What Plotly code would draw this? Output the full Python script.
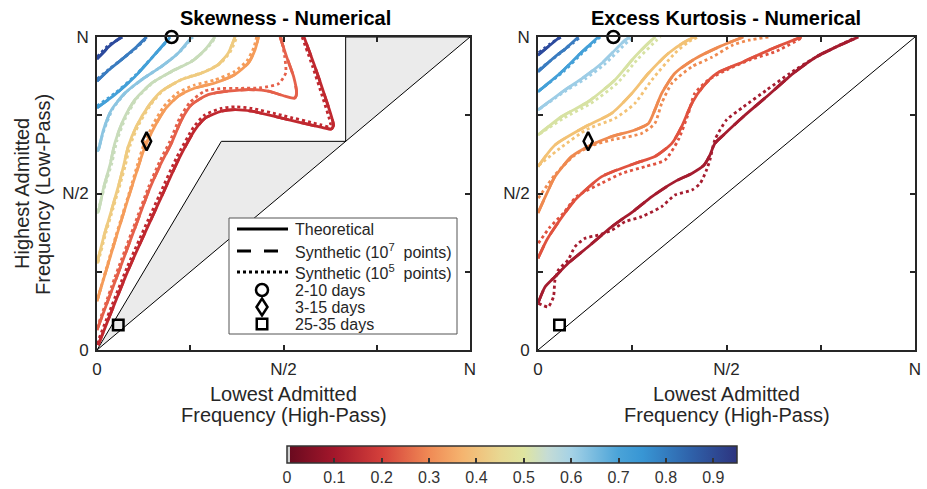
import plotly.graph_objects as go

# ---------------- data (frequencies in units of N) ----------------
LEVELS = [0.9, 0.8, 0.7, 0.6, 0.5, 0.4, 0.3, 0.2, 0.1]

# Skewness panel - theoretical contours (x = high-pass, y = low-pass)
skew_th_09 = [(0, 0.930), (0.015, 0.948), (0.030, 0.967), (0.048, 0.985), (0.066, 1.0)]
skew_th_08 = [(0, 0.859), (0.030, 0.893), (0.066, 0.928), (0.100, 0.962), (0.133, 1.0)]
skew_th_07 = [(0, 0.774), (0.048, 0.816), (0.102, 0.874), (0.155, 0.944), (0.196, 1.0)]
skew_th_06 = [(0, 0.635), (0.004, 0.640), (0.017, 0.702), (0.039, 0.768), (0.075, 0.821), (0.120, 0.864),
              (0.173, 0.906), (0.218, 0.949), (0.254, 1.0)]
skew_th_05 = [(0, 0.438), (0.0035, 0.442), (0.018, 0.520), (0.035, 0.592), (0.048, 0.662), (0.071, 0.736),
              (0.102, 0.800), (0.147, 0.853), (0.200, 0.890), (0.254, 0.922), (0.290, 0.960), (0.316, 1.0)]
skew_th_04 = [(0, 0.277), (0.020, 0.370), (0.039, 0.447), (0.060, 0.535), (0.071, 0.587), (0.084, 0.651),
              (0.106, 0.715), (0.138, 0.779), (0.173, 0.827), (0.227, 0.864), (0.281, 0.885), (0.325, 0.912),
              (0.352, 0.949), (0.370, 1.0)]
skew_th_03 = [(0, 0.156), (0.050, 0.355), (0.085, 0.490), (0.111, 0.587), (0.129, 0.651), (0.155, 0.715),
              (0.182, 0.768), (0.218, 0.811), (0.263, 0.837), (0.316, 0.853), (0.370, 0.880), (0.406, 0.917),
              (0.424, 0.960), (0.433, 1.0)]
skew_th_02 = [(0, 0.064), (0.050, 0.224), (0.100, 0.384), (0.140, 0.512), (0.170, 0.592), (0.200, 0.662),
              (0.227, 0.736), (0.254, 0.784), (0.298, 0.816), (0.352, 0.827), (0.406, 0.832), (0.459, 0.827),
              (0.504, 0.811), (0.530, 0.805), (0.535, 0.820), (0.527, 0.874), (0.508, 0.938), (0.491, 1.0)]
skew_th_01 = [(0.003, 0.015), (0.084, 0.256), (0.173, 0.490), (0.218, 0.607), (0.263, 0.704), (0.290, 0.741),
              (0.334, 0.763), (0.370, 0.768), (0.415, 0.763), (0.495, 0.741), (0.600, 0.712), (0.628, 0.706),
              (0.634, 0.718), (0.611, 0.811), (0.584, 0.906), (0.555, 1.0)]

# Skewness panel - synthetic 10^5 points (dotted)
skew_dot_09 = [(0, 0.936), (0.030, 0.972), (0.068, 1.0)]
skew_dot_08 = [(0, 0.866), (0.033, 0.898), (0.070, 0.932), (0.105, 0.965), (0.136, 1.0)]
skew_dot_07 = [(0, 0.780), (0.050, 0.822), (0.105, 0.880), (0.158, 0.948), (0.198, 1.0)]
skew_dot_06 = [(0.003, 0.640), (0.020, 0.707), (0.043, 0.772), (0.080, 0.826), (0.125, 0.868), (0.178, 0.910),
               (0.222, 0.953), (0.257, 1.0)]
skew_dot_05 = [(0.002, 0.442), (0.022, 0.528), (0.040, 0.598), (0.053, 0.667), (0.076, 0.740), (0.107, 0.804),
               (0.152, 0.856), (0.205, 0.893), (0.258, 0.926), (0.294, 0.963), (0.319, 1.0)]
skew_dot_04 = [(0.003, 0.280), (0.024, 0.375), (0.043, 0.452), (0.064, 0.538), (0.076, 0.590), (0.089, 0.654),
               (0.111, 0.718), (0.143, 0.782), (0.178, 0.830), (0.232, 0.867), (0.286, 0.888), (0.330, 0.915),
               (0.357, 0.952), (0.375, 1.0)]
skew_dot_03 = [(0.002, 0.165), (0.050, 0.362), (0.085, 0.497), (0.109, 0.594), (0.126, 0.658), (0.151, 0.722),
               (0.178, 0.776), (0.214, 0.820), (0.260, 0.846), (0.314, 0.862), (0.368, 0.889), (0.402, 0.924),
               (0.420, 0.965), (0.428, 1.0)]
skew_dot_02 = [(0, 0.070), (0.048, 0.232), (0.098, 0.392), (0.138, 0.520), (0.168, 0.602), (0.196, 0.668),
               (0.222, 0.742), (0.250, 0.792), (0.290, 0.828), (0.330, 0.835), (0.380, 0.836), (0.440, 0.838),
               (0.487, 0.851), (0.506, 0.885), (0.503, 0.940), (0.493, 1.0)]
skew_dot_01 = [(0, 0.020), (0.080, 0.262), (0.168, 0.497), (0.213, 0.614), (0.259, 0.712), (0.288, 0.750),
               (0.333, 0.772), (0.370, 0.777), (0.415, 0.772), (0.495, 0.750), (0.598, 0.720), (0.622, 0.713),
               (0.626, 0.720), (0.604, 0.811), (0.578, 0.906), (0.550, 1.0)]

# Excess kurtosis panel - theoretical contours
kurt_th_09 = [(0, 0.942), (0.030, 0.972), (0.058, 1.0)]
kurt_th_08 = [(0, 0.889), (0.045, 0.937), (0.075, 0.965), (0.107, 1.0)]
kurt_th_07 = [(0, 0.825), (0.063, 0.889), (0.110, 0.945), (0.160, 1.0)]
kurt_th_06 = [(0, 0.767), (0.072, 0.831), (0.120, 0.870), (0.169, 0.916), (0.231, 0.990), (0.244, 1.0)]
kurt_th_05 = [(0, 0.687), (0.063, 0.746), (0.134, 0.794), (0.204, 0.863), (0.257, 0.937), (0.306, 0.995),
              (0.312, 1.0)]
kurt_th_04 = [(0, 0.586), (0.045, 0.655), (0.125, 0.713), (0.195, 0.756), (0.249, 0.820), (0.293, 0.884),
              (0.346, 0.948), (0.390, 0.985), (0.415, 1.0)]
kurt_th_03 = [(0, 0.438), (0.024, 0.502), (0.045, 0.554), (0.089, 0.618), (0.133, 0.650), (0.195, 0.682),
              (0.257, 0.703), (0.293, 0.724), (0.310, 0.767), (0.328, 0.820), (0.363, 0.884), (0.416, 0.930),
              (0.483, 0.970), (0.545, 1.0)]
kurt_th_02 = [(0, 0.293), (0.024, 0.353), (0.059, 0.417), (0.098, 0.479), (0.169, 0.554), (0.257, 0.596),
              (0.310, 0.618), (0.355, 0.660), (0.381, 0.714), (0.408, 0.788), (0.438, 0.842), (0.474, 0.884),
              (0.545, 0.921), (0.624, 0.964), (0.699, 1.0)]
kurt_th_01 = [(0, 0.149), (0.019, 0.202), (0.045, 0.234), (0.080, 0.277), (0.133, 0.330), (0.196, 0.394),
              (0.257, 0.447), (0.302, 0.490), (0.363, 0.538), (0.408, 0.564), (0.440, 0.590), (0.455, 0.620),
              (0.469, 0.660), (0.492, 0.687), (0.545, 0.746), (0.607, 0.810), (0.677, 0.884), (0.739, 0.937),
              (0.801, 0.974), (0.850, 1.0)]

# Excess kurtosis panel - synthetic 10^5 points (dotted)
kurt_dot_09 = [(0.002, 0.950), (0.032, 0.978), (0.062, 1.0)]
kurt_dot_08 = [(0.003, 0.896), (0.050, 0.940), (0.080, 0.968), (0.112, 1.0)]
kurt_dot_07 = [(0.004, 0.830), (0.068, 0.890), (0.115, 0.946), (0.165, 1.0)]
kurt_dot_06 = [(0.004, 0.770), (0.076, 0.830), (0.125, 0.866), (0.176, 0.912), (0.238, 0.985), (0.255, 1.0)]
kurt_dot_05 = [(0.004, 0.690), (0.070, 0.742), (0.140, 0.788), (0.210, 0.852), (0.265, 0.930), (0.315, 0.990),
               (0.325, 1.0)]
kurt_dot_04 = [(0.002, 0.590), (0.059, 0.645), (0.130, 0.705), (0.204, 0.740), (0.257, 0.788), (0.302, 0.863),
               (0.363, 0.948), (0.400, 0.985), (0.425, 1.0)]
kurt_dot_03 = [(0.001, 0.485), (0.045, 0.560), (0.100, 0.625), (0.148, 0.655), (0.195, 0.671), (0.275, 0.692),
               (0.310, 0.724), (0.328, 0.788), (0.355, 0.852), (0.408, 0.905), (0.461, 0.935), (0.518, 0.975),
               (0.560, 0.990), (0.611, 1.0)]
kurt_dot_02 = [(0.001, 0.341), (0.030, 0.390), (0.068, 0.438), (0.103, 0.491), (0.169, 0.533), (0.222, 0.564),
               (0.284, 0.586), (0.337, 0.607), (0.372, 0.671), (0.399, 0.756), (0.416, 0.820), (0.452, 0.863),
               (0.500, 0.895), (0.562, 0.927), (0.633, 0.955), (0.704, 1.0)]
kurt_dot_01 = [(0.001, 0.149), (0.027, 0.138), (0.041, 0.170), (0.045, 0.224), (0.054, 0.256), (0.080, 0.288),
               (0.098, 0.330), (0.125, 0.357), (0.160, 0.367), (0.196, 0.383), (0.231, 0.410), (0.275, 0.426),
               (0.328, 0.458), (0.363, 0.495), (0.408, 0.511), (0.430, 0.532), (0.447, 0.575), (0.456, 0.607),
               (0.469, 0.671), (0.500, 0.735), (0.545, 0.777), (0.607, 0.831), (0.668, 0.884), (0.739, 0.937),
               (0.845, 1.0)]

# Gray (inadmissible) region of the skewness panel and the diagonal
GRAY_X = [0, 1 / 3, 2 / 3, 2 / 3, 1, 0]
GRAY_Y = [0, 2 / 3, 2 / 3, 1, 1, 0]
DIAG = [0, 1]

# Marked bands: high-pass (x) and low-pass (y) frequencies
BAND_NAMES = ["2-10 days", "3-15 days", "25-35 days"]
BAND_HP = [0.200, 0.133, 0.057]
BAND_LP = [1.000, 0.667, 0.080]

LEGEND_LINE_NAMES = ["Theoretical", "Synthetic (10<sup>7</sup>\u00a0 points)", "Synthetic (10<sup>5</sup>\u00a0 points)"]

# Colorbar
CB_TICKS = [0, 0.1, 0.2, 0.3, 0.4, 0.5, 0.6, 0.7, 0.8, 0.9]
CB_LABELS = ["0", "0.1", "0.2", "0.3", "0.4", "0.5", "0.6", "0.7", "0.8", "0.9"]
CB_MAX = 0.95

AX_TICKS = [0, 0.5, 1]
AX_LABELS = ["0", "N/2", "N"]

# ---------------- styles ----------------
FONT = "Liberation Sans, Arial, Helvetica, sans-serif"
INK = "#262626"
W, H = 927, 489
SKEW_COLORS = ["#2c4a9d", "#3a7cc0", "#44a0d8", "#8cc5e1", "#c8dcba", "#efcb80", "#f59c5a", "#e5604a", "#c0282f"]
KURT_COLORS = ["#2c4a9d", "#3a7cc0", "#44a0d8", "#9dcde6", "#d7e2a3", "#f3c275", "#ef8a50", "#e0523f", "#a51c2f"]
CSTOPS = [(0.0, "#6a0a1f"), (0.1, "#a3172b"), (0.2, "#d4403b"), (0.3, "#f08a55"), (0.37, "#f5b46f"),
          (0.45, "#e8d892"), (0.5, "#dfe5a0"), (0.55, "#c5dcd5"), (0.6, "#a5d2e6"), (0.7, "#4aa3d8"),
          (0.75, "#3896d4"), (0.85, "#2f63ab"), (0.95, "#2d347f")]
colorscale = [[0, "#d0d0d0"], [0.006, "#d0d0d0"], [0.0061, CSTOPS[0][1]]] + \
             [[v / CB_MAX, c] for v, c in CSTOPS[1:]]

LW = 2.8
DASH7 = "14px,13px"


def px(x):
    return x / W


def py(y):
    return (H - y) / H


fig = go.Figure()

# gray region + diagonal (left), diagonal (right)
fig.add_trace(go.Scatter(x=GRAY_X, y=GRAY_Y, mode="lines", fill="toself", fillcolor="#ebebeb",
                         line=dict(color="black", width=1), showlegend=False, hoverinfo="skip",
                         xaxis="x", yaxis="y"))
fig.add_trace(go.Scatter(x=DIAG, y=DIAG, mode="lines", line=dict(color="black", width=1),
                         showlegend=False, hoverinfo="skip", xaxis="x2", yaxis="y2"))

skew_th = [skew_th_09, skew_th_08, skew_th_07, skew_th_06, skew_th_05, skew_th_04, skew_th_03, skew_th_02, skew_th_01]
skew_dot = [skew_dot_09, skew_dot_08, skew_dot_07, skew_dot_06, skew_dot_05, skew_dot_04, skew_dot_03, skew_dot_02,
            skew_dot_01]
kurt_th = [kurt_th_09, kurt_th_08, kurt_th_07, kurt_th_06, kurt_th_05, kurt_th_04, kurt_th_03, kurt_th_02, kurt_th_01]
kurt_dot = [kurt_dot_09, kurt_dot_08, kurt_dot_07, kurt_dot_06, kurt_dot_05, kurt_dot_04, kurt_dot_03, kurt_dot_02,
            kurt_dot_01]


def add_curve(pts, color, dash, xa, ya):
    fig.add_trace(go.Scatter(x=[p[0] for p in pts], y=[p[1] for p in pts], mode="lines",
                             line=dict(color=color, width=LW, dash=dash, shape="spline", smoothing=0.6),
                             showlegend=False, hoverinfo="skip", xaxis=xa, yaxis=ya))


for th, dot, col in zip(skew_th, skew_dot, SKEW_COLORS):
    add_curve(th, col, "solid", "x", "y")
    add_curve(th, col, DASH7, "x", "y")      # 10^7 synthetic overlaps the theory
    add_curve(dot, col, "dot", "x", "y")
for th, dot, col in zip(kurt_th, kurt_dot, KURT_COLORS):
    add_curve(th, col, "solid", "x2", "y2")
    add_curve(th, col, DASH7, "x2", "y2")
    add_curve(dot, col, "dot", "x2", "y2")

# band markers
SYMBOLS = ["circle-open", "diamond-tall-open", "square-open"]
SIZES = [12, 13, 10.5]
for i, (nm, sym, sz) in enumerate(zip(BAND_NAMES, SYMBOLS, SIZES)):
    for xa, ya in [("x", "y"), ("x2", "y2")]:
        fig.add_trace(go.Scatter(x=[BAND_HP[i]], y=[BAND_LP[i]], mode="markers", name=nm,
                                 showlegend=False, cliponaxis=False,
                                 marker=dict(symbol=sym, size=sz, color="black",
                                             line=dict(color="black", width=2.5)),
                                 xaxis=xa, yaxis=ya, hoverinfo="skip"))

# colorbar carrier
fig.add_trace(go.Scatter(x=[None], y=[None], mode="markers", showlegend=False, hoverinfo="skip",
                         marker=dict(color=[0], colorscale=colorscale, cmin=0, cmax=CB_MAX, showscale=True,
                                     colorbar=dict(orientation="h", x=px(512), xanchor="center",
                                                   y=py(446), yanchor="top", len=450, lenmode="pixels",
                                                   thickness=17, outlinewidth=1.5, outlinecolor="#333333",
                                                   ticks="inside", ticklen=5, tickwidth=2, tickcolor="#333333",
                                                   tickvals=CB_TICKS, ticktext=CB_LABELS, xpad=0, ypad=0,
                                                   tickfont=dict(family=FONT, size=16, color="#333333"))),
                         xaxis="x", yaxis="y"))

axis_common = dict(range=[0, 1], tickvals=AX_TICKS, ticktext=AX_LABELS, ticks="inside", ticklen=5,
                   tickwidth=1.5, tickcolor=INK, showline=True, linecolor=INK, linewidth=1.6,
                   mirror="ticks", showgrid=False, zeroline=False, ticklabelstandoff=3,
                   minor=dict(dtick=0.25, ticks="inside", ticklen=5, tickwidth=1.5, tickcolor=INK,
                              showgrid=False),
                   tickfont=dict(family=FONT, size=17, color=INK))

# ---- hand-built legend (box, line samples, symbols, texts) ----
LEG_BOX = (229, 218, 457, 334)
LEG_ROWS = [229, 251, 272, 290, 307, 324]
shapes = [dict(type="rect", xref="paper", yref="paper", x0=px(LEG_BOX[0]), x1=px(LEG_BOX[2]),
               y0=py(LEG_BOX[3]), y1=py(LEG_BOX[1]), fillcolor="white", line=dict(color="#555555", width=1),
               layer="above")]
for row, dash in zip(LEG_ROWS[:3], ["solid", DASH7, "dot"]):
    shapes.append(dict(type="line", xref="paper", yref="paper", x0=px(237), x1=px(288), y0=py(row), y1=py(row),
                       line=dict(color="black", width=3, dash=dash), layer="above"))
mx = px(262)
shapes.append(dict(type="circle", xref="paper", yref="paper", xsizemode="pixel", ysizemode="pixel",
                   xanchor=mx, yanchor=py(LEG_ROWS[3]), x0=-6, x1=6, y0=-6, y1=6,
                   line=dict(color="black", width=2.5), fillcolor="rgba(0,0,0,0)", layer="above"))
shapes.append(dict(type="path", xref="paper", yref="paper", xsizemode="pixel", ysizemode="pixel",
                   xanchor=mx, yanchor=py(LEG_ROWS[4]), path="M0,8.5 L5.5,0 L0,-8.5 L-5.5,0 Z",
                   line=dict(color="black", width=2.5), fillcolor="rgba(0,0,0,0)", layer="above"))
shapes.append(dict(type="rect", xref="paper", yref="paper", xsizemode="pixel", ysizemode="pixel",
                   xanchor=mx, yanchor=py(LEG_ROWS[5]), x0=-5.25, x1=5.25, y0=-5.25, y1=5.25,
                   line=dict(color="black", width=2.5), fillcolor="rgba(0,0,0,0)", layer="above"))

annotations = []
for row, txt in zip(LEG_ROWS, LEGEND_LINE_NAMES + BAND_NAMES):
    annotations.append(dict(text=txt, x=px(293), y=py(row), xref="paper", yref="paper", showarrow=False,
                            xanchor="left", yanchor="middle", font=dict(family=FONT, size=16, color=INK)))

# titles and axis labels
annotations += [
    dict(text="<b>Skewness - Numerical</b>", x=px(285), y=py(18), xref="paper", yref="paper",
         showarrow=False, xanchor="center", yanchor="middle", font=dict(family=FONT, size=20, color="black")),
    dict(text="<b>Excess Kurtosis - Numerical</b>", x=px(726), y=py(18), xref="paper", yref="paper",
         showarrow=False, xanchor="center", yanchor="middle", font=dict(family=FONT, size=20, color="black")),
]
for cx in (283.5, 726.5):
    annotations.append(dict(text="Lowest Admitted", x=px(cx), y=py(394), xref="paper", yref="paper",
                            showarrow=False, xanchor="center", yanchor="middle",
                            font=dict(family=FONT, size=20, color=INK)))
    annotations.append(dict(text="Frequency (High-Pass)", x=px(cx), y=py(415), xref="paper", yref="paper",
                            showarrow=False, xanchor="center", yanchor="middle",
                            font=dict(family=FONT, size=20, color=INK)))
annotations.append(dict(text="Highest Admitted", x=px(22), y=py(194), xref="paper", yref="paper",
                        showarrow=False, textangle=-90, xanchor="center", yanchor="middle",
                        font=dict(family=FONT, size=20, color=INK)))
annotations.append(dict(text="Frequency (Low-Pass)", x=px(43), y=py(195), xref="paper", yref="paper",
                        showarrow=False, textangle=-90, xanchor="center", yanchor="middle",
                        font=dict(family=FONT, size=20, color=INK)))

fig.update_layout(
    width=W, height=H, margin=dict(l=0, r=0, t=0, b=0, autoexpand=False),
    paper_bgcolor="white", plot_bgcolor="white",
    font=dict(family=FONT, color=INK),
    xaxis=dict(domain=[px(97), px(470)], anchor="y", **axis_common),
    yaxis=dict(domain=[py(350), py(37)], anchor="x", **axis_common),
    xaxis2=dict(domain=[px(538), px(915)], anchor="y2", **axis_common),
    yaxis2=dict(domain=[py(350), py(37)], anchor="x2", **axis_common),
    showlegend=False,
    shapes=shapes,
    annotations=annotations,
)

fig.write_html("out.html")
